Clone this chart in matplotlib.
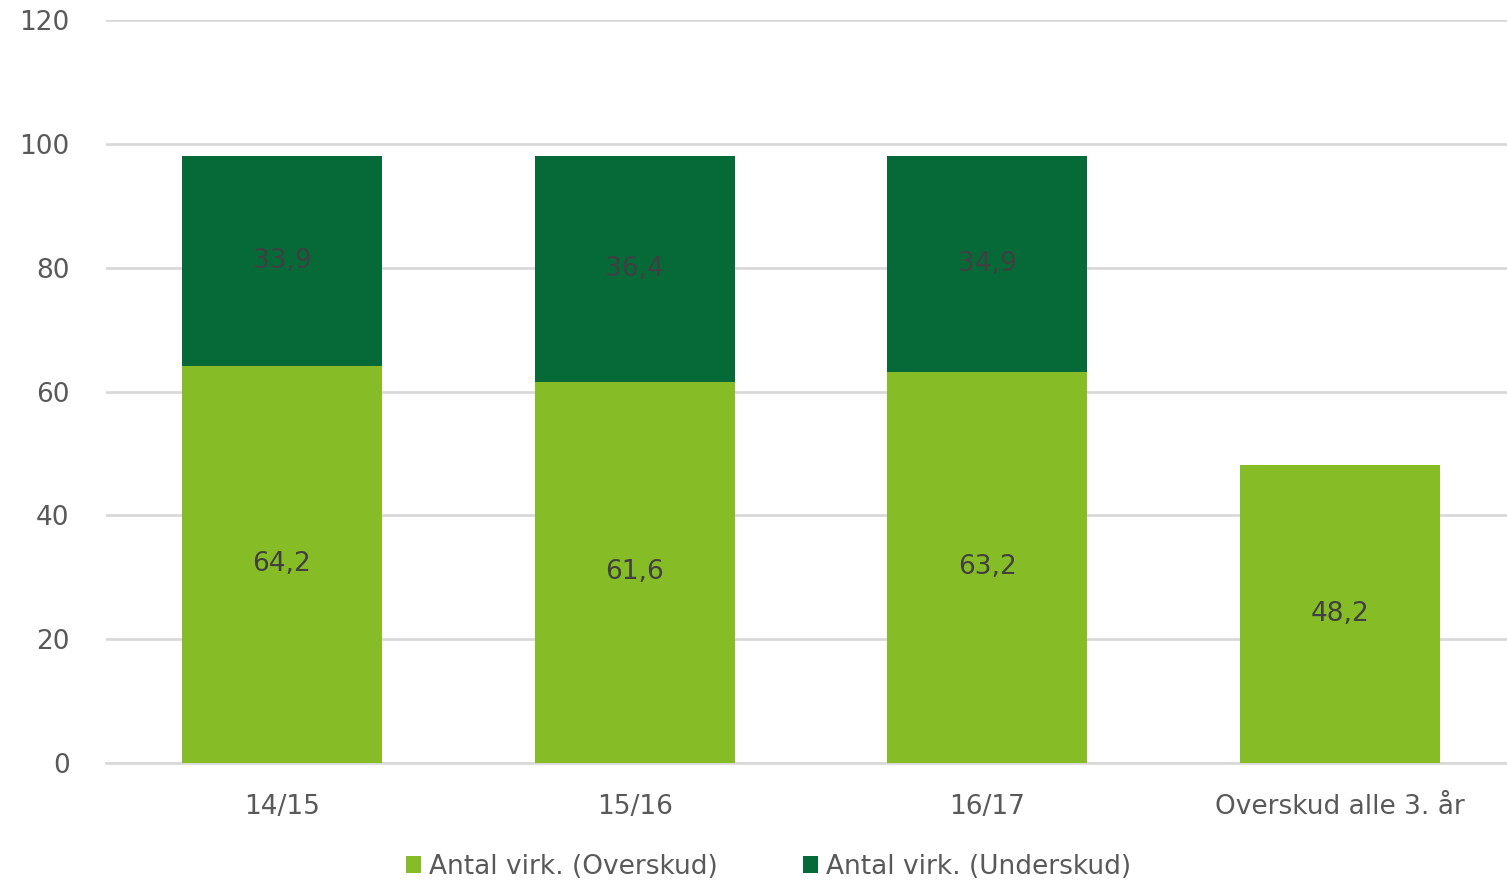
import matplotlib
matplotlib.use("Agg")
import matplotlib.pyplot as plt
import numpy as np

plt.rcParams.update({'font.family': 'DejaVu Sans'})

LIGHT = "#86BC25"; DARK = "#056A38"; GRID = "#D9D9D9"; TXT = "#595959"; LBL = "#404040"

categories = ["14/15", "15/16", "16/17", "Overskud alle 3. år"]
overskud = [64.2, 61.6, 63.2, 48.2]
underskud = [33.9, 36.4, 34.9, 0]
yticks = [0, 20, 40, 60, 80, 100, 120]

fig = plt.figure(figsize=(15.07, 8.86), dpi=100)
# axes slightly wider than the figure: the last category slot runs past the right edge
ax = fig.add_axes([0.0701, 0.1388, 0.9362, 0.8386])

x = np.arange(len(categories))
w = 0.567
ax.bar(x, overskud, w, color=LIGHT, label="Antal virk. (Overskud)", zorder=3)
ax.bar(x, underskud, w, bottom=overskud, color=DARK, label="Antal virk. (Underskud)", zorder=3)

for xi, o, u in zip(x, overskud, underskud):
    ax.text(xi, o / 2, f"{o:.1f}".replace(".", ","), ha='center', va='center',
            fontsize=19, color=LBL, zorder=4)
    if u > 0:
        ax.text(xi, o + u / 2, f"{u:.1f}".replace(".", ","), ha='center', va='center',
                fontsize=19, color=LBL, zorder=4)

ax.set_xlim(-0.5, 3.5)
ax.set_ylim(0, 120)
ax.set_yticks(yticks)
ax.set_xticks(x)
ax.set_xticklabels(categories)
ax.grid(axis='y', color=GRID, lw=2, zorder=0)
for s in ['top', 'right', 'left']:
    ax.spines[s].set_visible(False)
ax.spines['bottom'].set_color(GRID)
ax.spines['bottom'].set_linewidth(2)
ax.tick_params(axis='both', length=0, labelsize=19, labelcolor=TXT)
ax.tick_params(axis='y', pad=26)
ax.tick_params(axis='x', pad=22)

fig.legend(*ax.get_legend_handles_labels(), loc='center', bbox_to_anchor=(0.51, 0.022),
           ncol=2, frameon=False, fontsize=19, labelcolor=TXT, handlelength=0.6,
           handleheight=0.6, handletextpad=0.3, columnspacing=3.2)

fig.savefig("out.png", dpi=100, facecolor='white')
